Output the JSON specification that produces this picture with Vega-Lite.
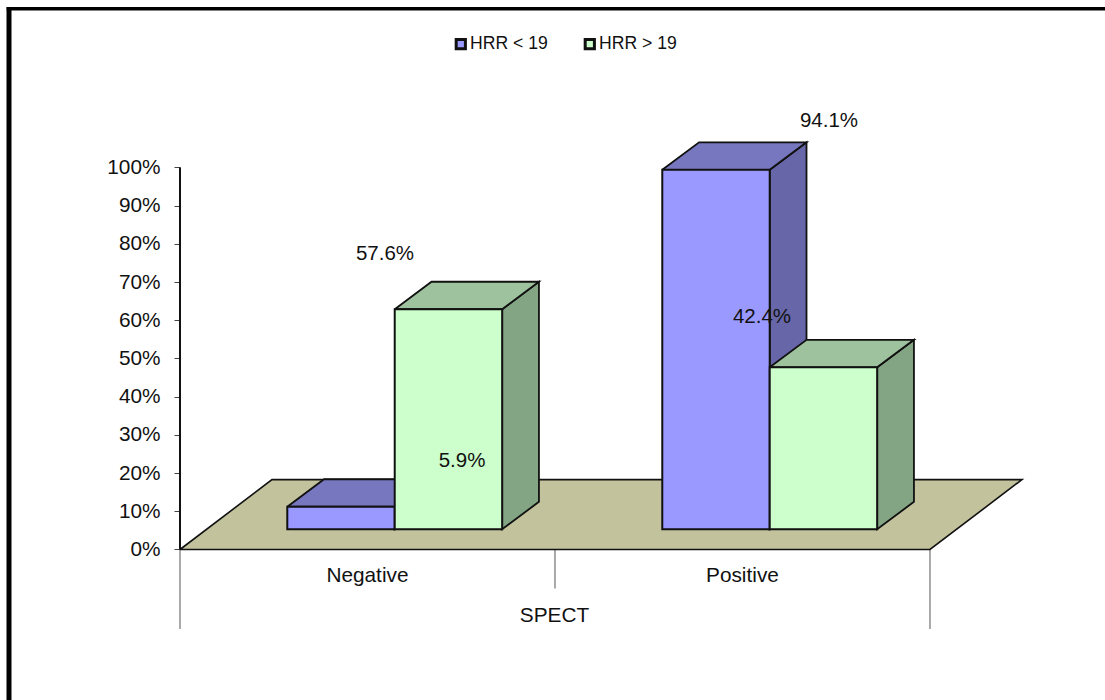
{
  "$schema": "https://vega.github.io/schema/vega-lite/v6.json",
  "width": 1105,
  "height": 700,
  "padding": 0,
  "autosize": {"type": "none"},
  "background": "white",
  "config": {
    "view": {"stroke": null},
    "font": "Liberation Sans",
    "text": {"font": "Liberation Sans", "fontSize": 20.5, "color": "#111111"}
  },
  "params": [
    {"name": "barWidth", "value": 0.2865},
    {"name": "depthX", "value": 0.0981},
    {"name": "depthY", "value": 7.2},
    {"name": "base", "value": 5.29}
  ],
  "data": {
    "values": [
      {"spect": "Negative", "series": "HRR < 19", "value": 5.9},
      {"spect": "Negative", "series": "HRR > 19", "value": 57.6},
      {"spect": "Positive", "series": "HRR < 19", "value": 94.1},
      {"spect": "Positive", "series": "HRR > 19", "value": 42.4}
    ]
  },
  "transform": [
    {"calculate": "(datum.spect === 'Negative' ? 0 : 1) + (datum.series === 'HRR < 19' ? 0.2861 : 0.5726)", "as": "left"},
    {"calculate": "datum.left + barWidth", "as": "right"},
    {"calculate": "datum.value + base", "as": "top"}
  ],
  "encoding": {
    "x": {
      "field": "px",
      "type": "quantitative",
      "scale": {"domain": [-0.48, 2.4667], "nice": false, "zero": false},
      "axis": {
        "values": [0.4985, 1.4985],
        "labelExpr": "datum.value < 1 ? 'Negative' : 'Positive'",
        "offset": -150,
        "domain": false,
        "ticks": false,
        "grid": false,
        "labelFontSize": 20.8,
        "labelColor": "#111111",
        "labelPadding": 15,
        "labelFont": "Liberation Sans",
        "title": "SPECT",
        "titleFont": "Liberation Sans",
        "titleFontSize": 20.8,
        "titleFontWeight": "normal",
        "titleColor": "#111111",
        "titleX": 554,
        "titleY": 65,
        "titleBaseline": "middle",
        "titleAlign": "center"
      }
    },
    "y": {
      "field": "py",
      "type": "quantitative",
      "scale": {"domain": [-39.398, 143.848], "nice": false, "zero": false},
      "axis": {
        "values": [0, 10, 20, 30, 40, 50, 60, 70, 80, 90, 100],
        "labelExpr": "datum.value + '%'",
        "offset": -180,
        "domain": false,
        "grid": false,
        "tickSize": 6,
        "tickColor": "#444444",
        "labelFontSize": 20.8,
        "labelColor": "#111111",
        "labelPadding": 14,
        "labelFont": "Liberation Sans",
        "title": null
      }
    }
  },
  "layer": [
    {
      "description": "Page frame, left edge",
      "data": {"values": [{"edge": "left"}]},
      "transform": [
        {"calculate": "-0.456", "as": "px"},
        {"calculate": "-39.398", "as": "py"},
        {"calculate": "142", "as": "py2"}
      ],
      "mark": {"type": "rule", "color": "black", "strokeWidth": 5},
      "encoding": {"y2": {"field": "py2"}}
    },
    {
      "description": "Page frame, top edge",
      "data": {"values": [{"edge": "top"}]},
      "transform": [
        {"calculate": "-0.462", "as": "px"},
        {"calculate": "2.4667", "as": "px2"},
        {"calculate": "141.56", "as": "py"}
      ],
      "mark": {"type": "rule", "color": "black", "strokeWidth": 3.5},
      "encoding": {"x2": {"field": "px2"}}
    },
    {
      "description": "Category separators below the floor; the middle one stops short of the axis title",
      "data": {"values": [{"boundary": 0}, {"boundary": 1}, {"boundary": 2}]},
      "transform": [
        {"calculate": "datum.boundary", "as": "px"},
        {"calculate": "0", "as": "py"},
        {"calculate": "datum.boundary === 1 ? -10.2 : -20.8", "as": "py2"}
      ],
      "mark": {"type": "rule", "color": "#555555", "strokeWidth": 1},
      "encoding": {"y2": {"field": "py2"}}
    },
    {
      "description": "Value axis line",
      "data": {"values": [{"boundary": 0}]},
      "transform": [
        {"calculate": "datum.boundary", "as": "px"},
        {"calculate": "0", "as": "py"},
        {"calculate": "100", "as": "py2"}
      ],
      "mark": {"type": "rule", "color": "#111111", "strokeWidth": 2},
      "encoding": {"y2": {"field": "py2"}}
    },
    {
      "description": "Floor plane",
      "data": {
        "values": [
          {"step": 0, "across": 0, "back": 0},
          {"step": 1, "across": 2, "back": 0},
          {"step": 2, "across": 2, "back": 1},
          {"step": 3, "across": 0, "back": 1},
          {"step": 4, "across": 0, "back": 0}
        ]
      },
      "transform": [
        {"calculate": "datum.across + datum.back * 0.2453", "as": "px"},
        {"calculate": "datum.back * 18.3", "as": "py"}
      ],
      "mark": {"type": "line", "fill": "#c2c29c", "stroke": "#111111", "strokeWidth": 1.6, "strokeJoin": "miter"},
      "encoding": {"order": {"field": "step", "type": "quantitative"}}
    },
    {
      "description": "HRR < 19 side faces",
      "transform": [
        {"filter": "datum.series === 'HRR < 19'"},
        {"calculate": "[0, 1, 2, 3, 4]", "as": "k"},
        {"flatten": ["k"]},
        {"calculate": "datum.right + (datum.k === 1 || datum.k === 2 ? depthX : 0)", "as": "px"},
        {"calculate": "(datum.k === 2 || datum.k === 3 ? base : datum.top) + (datum.k === 1 || datum.k === 2 ? depthY : 0)", "as": "py"}
      ],
      "mark": {"type": "line", "fill": "#6666a8", "stroke": "#111111", "strokeWidth": 1.8, "strokeJoin": "miter"},
      "encoding": {"detail": {"field": "spect"}, "order": {"field": "k", "type": "quantitative"}}
    },
    {
      "description": "HRR < 19 top faces",
      "transform": [
        {"filter": "datum.series === 'HRR < 19'"},
        {"calculate": "[0, 1, 2, 3, 4]", "as": "k"},
        {"flatten": ["k"]},
        {"calculate": "(datum.k === 2 || datum.k === 3 ? datum.right : datum.left) + (datum.k === 1 || datum.k === 2 ? depthX : 0)", "as": "px"},
        {"calculate": "datum.top + (datum.k === 1 || datum.k === 2 ? depthY : 0)", "as": "py"}
      ],
      "mark": {"type": "line", "fill": "#7777c0", "stroke": "#111111", "strokeWidth": 1.8, "strokeJoin": "miter"},
      "encoding": {"detail": {"field": "spect"}, "order": {"field": "k", "type": "quantitative"}}
    },
    {
      "description": "HRR < 19 front faces",
      "transform": [
        {"filter": "datum.series === 'HRR < 19'"},
        {"calculate": "datum.left", "as": "px"},
        {"calculate": "base", "as": "py"}
      ],
      "mark": {"type": "rect", "stroke": "#111111", "strokeWidth": 2},
      "encoding": {
        "x2": {"field": "right"},
        "y2": {"field": "top"},
        "fill": {
          "field": "series",
          "type": "nominal",
          "scale": {"domain": ["HRR < 19", "HRR > 19"], "range": ["#9999ff", "#ccffcc"]},
          "legend": {
            "orient": "none",
            "legendX": 452,
            "legendY": 35,
            "direction": "horizontal",
            "title": null,
            "symbolType": "square",
            "symbolSize": 85,
            "symbolStrokeColor": "#111111",
            "symbolStrokeWidth": 3,
            "labelFont": "Liberation Sans",
            "labelFontSize": 17.6,
            "labelColor": "#111111",
            "labelOffset": 0.5,
            "columnPadding": 31
          }
        }
      }
    },
    {
      "description": "HRR > 19 side faces",
      "transform": [
        {"filter": "datum.series === 'HRR > 19'"},
        {"calculate": "[0, 1, 2, 3, 4]", "as": "k"},
        {"flatten": ["k"]},
        {"calculate": "datum.right + (datum.k === 1 || datum.k === 2 ? depthX : 0)", "as": "px"},
        {"calculate": "(datum.k === 2 || datum.k === 3 ? base : datum.top) + (datum.k === 1 || datum.k === 2 ? depthY : 0)", "as": "py"}
      ],
      "mark": {"type": "line", "fill": "#84a584", "stroke": "#111111", "strokeWidth": 1.8, "strokeJoin": "miter"},
      "encoding": {"detail": {"field": "spect"}, "order": {"field": "k", "type": "quantitative"}}
    },
    {
      "description": "HRR > 19 top faces",
      "transform": [
        {"filter": "datum.series === 'HRR > 19'"},
        {"calculate": "[0, 1, 2, 3, 4]", "as": "k"},
        {"flatten": ["k"]},
        {"calculate": "(datum.k === 2 || datum.k === 3 ? datum.right : datum.left) + (datum.k === 1 || datum.k === 2 ? depthX : 0)", "as": "px"},
        {"calculate": "datum.top + (datum.k === 1 || datum.k === 2 ? depthY : 0)", "as": "py"}
      ],
      "mark": {"type": "line", "fill": "#9ec29e", "stroke": "#111111", "strokeWidth": 1.8, "strokeJoin": "miter"},
      "encoding": {"detail": {"field": "spect"}, "order": {"field": "k", "type": "quantitative"}}
    },
    {
      "description": "HRR > 19 front faces",
      "transform": [
        {"filter": "datum.series === 'HRR > 19'"},
        {"calculate": "datum.left", "as": "px"},
        {"calculate": "base", "as": "py"}
      ],
      "mark": {"type": "rect", "stroke": "#111111", "strokeWidth": 2},
      "encoding": {
        "x2": {"field": "right"},
        "y2": {"field": "top"},
        "fill": {"field": "series", "type": "nominal"}
      }
    },
    {
      "description": "Value labels, each placed where the chart sets it",
      "transform": [
        {"calculate": "format(datum.value, '.1f') + '%'", "as": "label"},
        {"calculate": "{'Negative|HRR < 19': 0.752, 'Negative|HRR > 19': 0.5467, 'Positive|HRR < 19': 1.7307, 'Positive|HRR > 19': 1.552}[datum.spect + '|' + datum.series]", "as": "px"},
        {"calculate": "datum.value + {'Negative|HRR < 19': 17.3, 'Negative|HRR > 19': 20, 'Positive|HRR < 19': 18.3, 'Positive|HRR > 19': 18.7}[datum.spect + '|' + datum.series]", "as": "py"}
      ],
      "mark": {"type": "text", "align": "center", "baseline": "middle", "dy": 0.5},
      "encoding": {"text": {"field": "label"}}
    }
  ]
}
